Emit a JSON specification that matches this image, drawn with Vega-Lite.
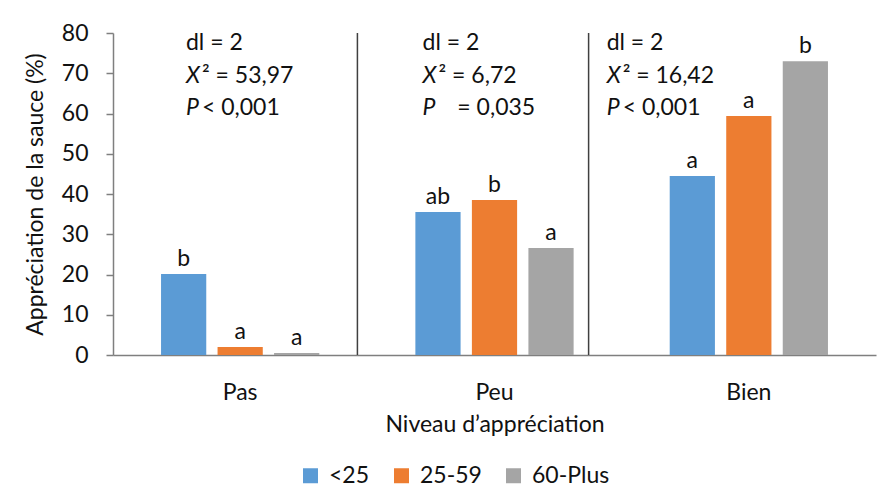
{
  "$schema": "https://vega.github.io/schema/vega-lite/v6.json",
  "width": 763,
  "height": 322,
  "autosize": {"type": "none"},
  "padding": {"left": 113, "top": 33, "right": 3, "bottom": 147},
  "background": "white",
  "config": {
    "font": "Lato",
    "view": {"stroke": null},
    "text": {"font": "Lato", "fontSize": 23, "color": "#111"}
  },
  "datasets": {
    "barres": [
      {"niveau": "Pas", "age": "<25", "pct": 20.1, "lettre": "b"},
      {"niveau": "Pas", "age": "25-59", "pct": 2.0, "lettre": "a"},
      {"niveau": "Pas", "age": "60-Plus", "pct": 0.5, "lettre": "a"},
      {"niveau": "Peu", "age": "<25", "pct": 35.5, "lettre": "ab"},
      {"niveau": "Peu", "age": "25-59", "pct": 38.5, "lettre": "b"},
      {"niveau": "Peu", "age": "60-Plus", "pct": 26.6, "lettre": "a"},
      {"niveau": "Bien", "age": "<25", "pct": 44.5, "lettre": "a"},
      {"niveau": "Bien", "age": "25-59", "pct": 59.4, "lettre": "a"},
      {"niveau": "Bien", "age": "60-Plus", "pct": 73.0, "lettre": "b"}
    ],
    "notes": [
      {"pos": 0.287, "y": 75.8, "partie": "normal", "texte": "dl = 2"},
      {"pos": 0.287, "y": 67.6, "partie": "italique", "texte": "X"},
      {"pos": 0.287, "y": 67.6, "partie": "suite", "texte": "² = 53,97"},
      {"pos": 0.287, "y": 59.6, "partie": "italique", "texte": "P"},
      {"pos": 0.287, "y": 59.6, "partie": "suite", "texte": "< 0,001"},
      {"pos": 1.217, "y": 75.8, "partie": "normal", "texte": "dl = 2"},
      {"pos": 1.217, "y": 67.6, "partie": "italique", "texte": "X"},
      {"pos": 1.217, "y": 67.6, "partie": "suite", "texte": "² = 6,72"},
      {"pos": 1.217, "y": 59.6, "partie": "italique", "texte": "P"},
      {"pos": 1.354, "y": 59.6, "partie": "normal", "texte": "= 0,035"},
      {"pos": 1.941, "y": 75.8, "partie": "normal", "texte": "dl = 2"},
      {"pos": 1.941, "y": 67.6, "partie": "italique", "texte": "X"},
      {"pos": 1.941, "y": 67.6, "partie": "suite", "texte": "² = 16,42"},
      {"pos": 1.941, "y": 59.6, "partie": "italique", "texte": "P"},
      {"pos": 1.941, "y": 59.6, "partie": "suite", "texte": "< 0,001"}
    ],
    "separateurs": [
      {"pos": 0.961},
      {"pos": 1.87}
    ]
  },
  "layer": [
    {
      "data": {"name": "barres"},
      "encoding": {
        "x": {
          "field": "niveau", "type": "nominal", "sort": ["Pas", "Peu", "Bien"],
          "scale": {"paddingInner": 0, "paddingOuter": 0},
          "axis": {
            "title": "Niveau d’appréciation", "labelAngle": 0, "ticks": false,
            "domainColor": "#7f7f7f", "domainWidth": 1.5,
            "labelFontSize": 23, "labelColor": "#111", "labelPadding": 26,
            "titleFontSize": 23, "titleFontWeight": "normal", "titleColor": "#111", "titlePadding": 9
          }
        },
        "xOffset": {
          "field": "age", "type": "nominal", "sort": ["<25", "25-59", "60-Plus"],
          "scale": {"paddingInner": 0.2, "paddingOuter": 0.85}
        },
        "y": {
          "field": "pct", "type": "quantitative",
          "scale": {"domain": [0, 80], "nice": false},
          "axis": {
            "title": "Appréciation de la sauce (%)", "values": [0, 10, 20, 30, 40, 50, 60, 70, 80],
            "grid": false, "domainColor": "#7f7f7f", "domainWidth": 1.5, "tickColor": "#7f7f7f", "tickSize": 7, "tickWidth": 1.5,
            "labelFontSize": 23, "labelColor": "#111", "labelPadding": 18,
            "titleFontSize": 23, "titleFontWeight": "normal", "titleColor": "#111",
            "titleX": -78, "titleY": 161, "titleBaseline": "middle"
          }
        }
      },
      "layer": [
        {
          "mark": {"type": "bar"},
          "encoding": {
            "color": {
              "field": "age", "type": "nominal", "sort": ["<25", "25-59", "60-Plus"],
              "scale": {"domain": ["<25", "25-59", "60-Plus"], "range": ["#5B9BD5", "#ED7D31", "#A5A5A5"]},
              "legend": {
                "title": null, "orient": "none", "direction": "horizontal",
                "legendX": 186, "legendY": 431,
                "symbolType": "square", "symbolSize": 225, "symbolStrokeWidth": 0,
                "labelFontSize": 23, "labelColor": "#111", "labelOffset": 7, "columnPadding": 20
              }
            }
          }
        },
        {
          "mark": {"type": "text", "baseline": "alphabetic", "dy": -8, "fontSize": 23},
          "encoding": {
            "text": {"field": "lettre"}
          }
        }
      ]
    },
    {
      "data": {"name": "separateurs"},
      "mark": {"type": "rule", "color": "#404040", "strokeWidth": 1.5},
      "encoding": {
        "x": {"field": "pos", "type": "quantitative", "scale": {"domain": [0, 3], "nice": false, "zero": false}, "axis": null}
      }
    },
    {
      "data": {"name": "notes"},
      "encoding": {
        "x": {"field": "pos", "type": "quantitative", "scale": {"domain": [0, 3], "nice": false, "zero": false}, "axis": null},
        "y": {"field": "y", "type": "quantitative"},
        "text": {"field": "texte"}
      },
      "layer": [
        {
          "transform": [{"filter": "datum.partie === 'normal'"}],
          "mark": {"type": "text", "align": "left", "baseline": "alphabetic", "fontSize": 23}
        },
        {
          "transform": [{"filter": "datum.partie === 'italique'"}],
          "mark": {"type": "text", "align": "left", "baseline": "alphabetic", "fontSize": 23, "fontStyle": "italic"}
        },
        {
          "transform": [{"filter": "datum.partie === 'suite'"}],
          "mark": {"type": "text", "align": "left", "baseline": "alphabetic", "fontSize": 23, "dx": 16}
        }
      ]
    }
  ],
  "resolve": {"scale": {"x": "independent"}}
}
